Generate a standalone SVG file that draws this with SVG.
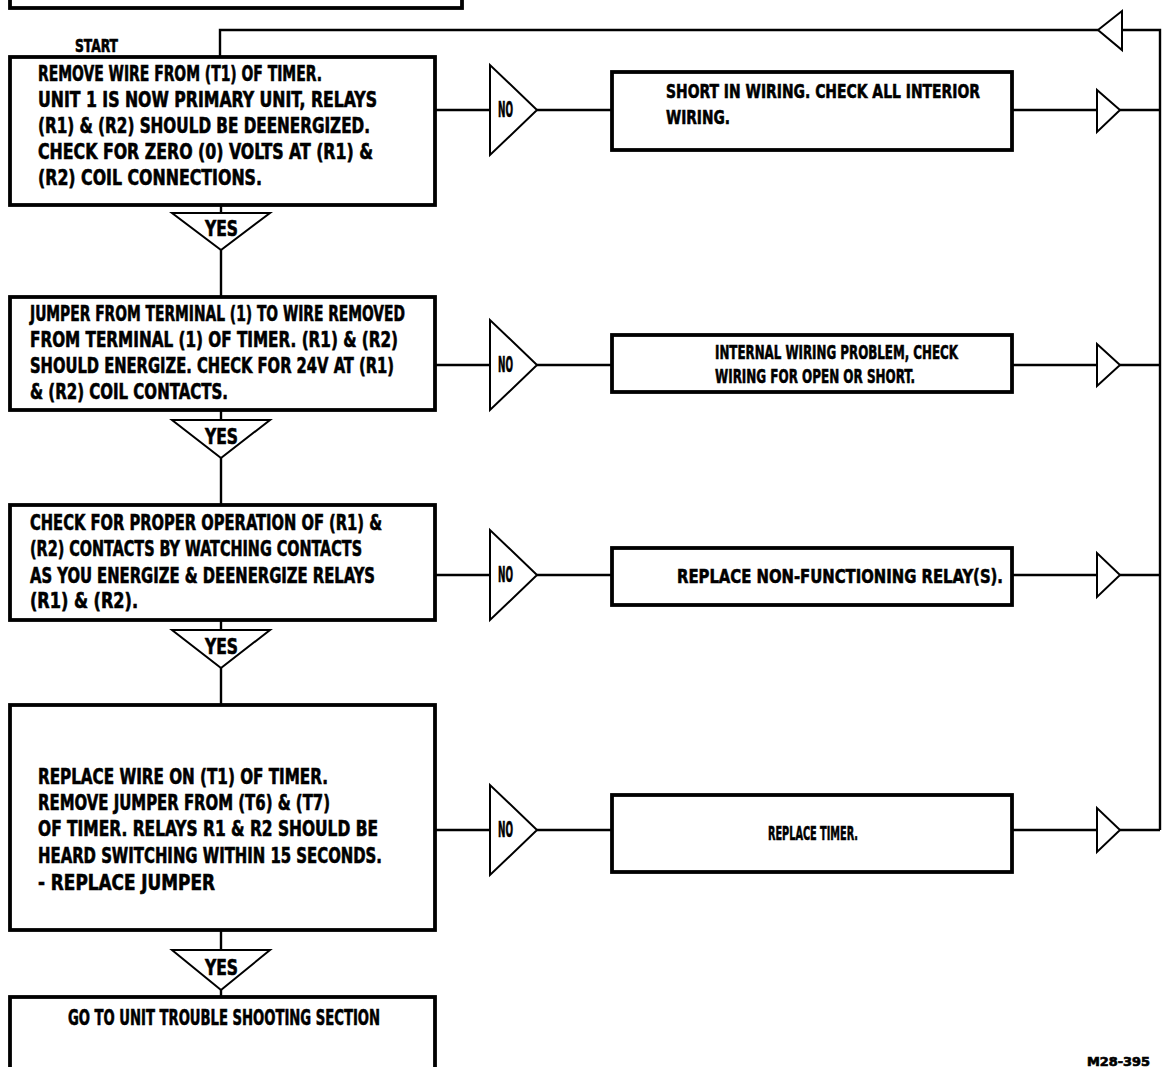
<svg xmlns="http://www.w3.org/2000/svg" width="1169" height="1067" viewBox="0 0 1169 1067">
<defs>
<style>
.box{fill:#fff;stroke:#000;stroke-width:3.8}
.tri{fill:#fff;stroke:#000;stroke-width:2}
.ln{fill:none;stroke:#000;stroke-width:2.4}
text{font-family:"DejaVu Sans Condensed","Liberation Sans Narrow","Liberation Sans",sans-serif;font-weight:bold;fill:#000;stroke:#000;stroke-width:0.6}
.t{font-size:21px}
.s{font-size:20px}
.lb{font-size:18px}
.yn{font-size:21px}
</style>
</defs>
<rect width="1169" height="1067" fill="#fff"/>
<g id="connectors">
<path class="ln" d="M1160,830 V30 H1122"/>
<path class="ln" d="M1098,30 H220 V57"/>
<path class="ln" d="M435,110 H490 M537,110 H612 M1012,110 H1097 M1120,110 H1160"/>
<path class="ln" d="M435,365 H490 M537,365 H612 M1012,365 H1097 M1120,365 H1160"/>
<path class="ln" d="M435,575 H490 M537,575 H612 M1012,575 H1097 M1120,575 H1160"/>
<path class="ln" d="M435,830 H490 M537,830 H612 M1012,830 H1097 M1120,830 H1160"/>
<path class="ln" d="M221,205 V213 M221,250 V297 M221,410 V420 M221,458 V505 M221,620 V630 M221,668 V705 M221,930 V950 M221,990 V997"/>
<polygon class="tri" points="1098,30 1122,11 1122,50"/>
<polygon class="tri" points="1097,90 1097,132 1120,110"/>
<polygon class="tri" points="1097,344 1097,386 1120,365"/>
<polygon class="tri" points="1097,553 1097,597 1120,575"/>
<polygon class="tri" points="1097,808 1097,852 1120,830"/>
</g>
<g id="top-box"><rect class="box" x="10" y="-20" width="452" height="28"/></g>
<g id="start"><text class="lb" x="75" y="52" textLength="43" lengthAdjust="spacingAndGlyphs">START</text></g>
<g id="step1">
<rect class="box" x="10" y="57" width="425" height="148"/>
<text class="t" x="38" y="81" textLength="284" lengthAdjust="spacingAndGlyphs">REMOVE WIRE FROM (T1) OF TIMER.</text>
<text class="t" x="38" y="107" textLength="339" lengthAdjust="spacingAndGlyphs">UNIT 1 IS NOW PRIMARY UNIT, RELAYS</text>
<text class="t" x="38" y="133" textLength="332" lengthAdjust="spacingAndGlyphs">(R1) &amp; (R2) SHOULD BE DEENERGIZED.</text>
<text class="t" x="38" y="159" textLength="335" lengthAdjust="spacingAndGlyphs">CHECK FOR ZERO (0) VOLTS AT (R1) &amp;</text>
<text class="t" x="38" y="185" textLength="224" lengthAdjust="spacingAndGlyphs">(R2) COIL CONNECTIONS.</text>
</g>
<g id="no1"><polygon class="tri" points="490,65 490,155 537,110"/><text class="yn" x="498" y="117" textLength="15" lengthAdjust="spacingAndGlyphs">NO</text></g>
<g id="fix1">
<rect class="box" x="612" y="72" width="400" height="78"/>
<text class="s" x="666" y="98" textLength="314" lengthAdjust="spacingAndGlyphs">SHORT IN WIRING. CHECK ALL INTERIOR</text>
<text class="s" x="666" y="124" textLength="64" lengthAdjust="spacingAndGlyphs">WIRING.</text>
</g>
<g id="yes1"><polygon class="tri" points="172,213 270,213 221,250"/><text class="yn" x="205" y="236" textLength="33" lengthAdjust="spacingAndGlyphs">YES</text></g>
<g id="step2">
<rect class="box" x="10" y="297" width="425" height="113"/>
<text class="t" x="30" y="321" textLength="375" lengthAdjust="spacingAndGlyphs">JUMPER FROM TERMINAL (1) TO WIRE REMOVED</text>
<text class="t" x="30" y="347" textLength="368" lengthAdjust="spacingAndGlyphs">FROM TERMINAL (1) OF TIMER. (R1) &amp; (R2)</text>
<text class="t" x="30" y="373" textLength="364" lengthAdjust="spacingAndGlyphs">SHOULD ENERGIZE. CHECK FOR 24V AT (R1)</text>
<text class="t" x="30" y="399" textLength="198" lengthAdjust="spacingAndGlyphs">&amp; (R2) COIL CONTACTS.</text>
</g>
<g id="no2"><polygon class="tri" points="490,320 490,410 537,365"/><text class="yn" x="498" y="372" textLength="15" lengthAdjust="spacingAndGlyphs">NO</text></g>
<g id="fix2">
<rect class="box" x="612" y="335" width="400" height="57"/>
<text class="s" x="715" y="359" textLength="243" lengthAdjust="spacingAndGlyphs">INTERNAL WIRING PROBLEM, CHECK</text>
<text class="s" x="715" y="383" textLength="200" lengthAdjust="spacingAndGlyphs">WIRING FOR OPEN OR SHORT.</text>
</g>
<g id="yes2"><polygon class="tri" points="172,420 270,420 221,458"/><text class="yn" x="205" y="444" textLength="33" lengthAdjust="spacingAndGlyphs">YES</text></g>
<g id="step3">
<rect class="box" x="10" y="505" width="425" height="115"/>
<text class="t" x="30" y="530" textLength="352" lengthAdjust="spacingAndGlyphs">CHECK FOR PROPER OPERATION OF (R1) &amp;</text>
<text class="t" x="30" y="556" textLength="332" lengthAdjust="spacingAndGlyphs">(R2) CONTACTS BY WATCHING CONTACTS</text>
<text class="t" x="30" y="583" textLength="345" lengthAdjust="spacingAndGlyphs">AS YOU ENERGIZE &amp; DEENERGIZE RELAYS</text>
<text class="t" x="30" y="608" textLength="108" lengthAdjust="spacingAndGlyphs">(R1) &amp; (R2).</text>
</g>
<g id="no3"><polygon class="tri" points="490,530 490,620 537,575"/><text class="yn" x="498" y="582" textLength="15" lengthAdjust="spacingAndGlyphs">NO</text></g>
<g id="fix3">
<rect class="box" x="612" y="548" width="400" height="57"/>
<text class="s" x="677" y="583" textLength="326" lengthAdjust="spacingAndGlyphs">REPLACE NON-FUNCTIONING RELAY(S).</text>
</g>
<g id="yes3"><polygon class="tri" points="172,630 270,630 221,668"/><text class="yn" x="205" y="654" textLength="33" lengthAdjust="spacingAndGlyphs">YES</text></g>
<g id="step4">
<rect class="box" x="10" y="705" width="425" height="225"/>
<text class="t" x="38" y="784" textLength="290" lengthAdjust="spacingAndGlyphs">REPLACE WIRE ON (T1) OF TIMER.</text>
<text class="t" x="38" y="810" textLength="292" lengthAdjust="spacingAndGlyphs">REMOVE JUMPER FROM (T6) &amp; (T7)</text>
<text class="t" x="38" y="836" textLength="340" lengthAdjust="spacingAndGlyphs">OF TIMER.  RELAYS R1 &amp; R2 SHOULD BE</text>
<text class="t" x="38" y="863" textLength="344" lengthAdjust="spacingAndGlyphs">HEARD SWITCHING WITHIN 15 SECONDS.</text>
<text class="t" x="38" y="890" textLength="177" lengthAdjust="spacingAndGlyphs">- REPLACE JUMPER</text>
</g>
<g id="no4"><polygon class="tri" points="490,785 490,875 537,830"/><text class="yn" x="498" y="837" textLength="15" lengthAdjust="spacingAndGlyphs">NO</text></g>
<g id="fix4">
<rect class="box" x="612" y="795" width="400" height="77"/>
<text class="s" x="768" y="840" textLength="90" lengthAdjust="spacingAndGlyphs">REPLACE TIMER.</text>
</g>
<g id="yes4"><polygon class="tri" points="172,950 270,950 221,990"/><text class="yn" x="205" y="975" textLength="33" lengthAdjust="spacingAndGlyphs">YES</text></g>
<g id="step5">
<rect class="box" x="10" y="997" width="425" height="90"/>
<text class="t" x="68" y="1025" textLength="312" lengthAdjust="spacingAndGlyphs">GO TO UNIT TROUBLE SHOOTING SECTION</text>
</g>
<g id="ref-label"><text x="1087" y="1066" font-size="12" textLength="63" lengthAdjust="spacingAndGlyphs">M28-395</text></g>
</svg>
